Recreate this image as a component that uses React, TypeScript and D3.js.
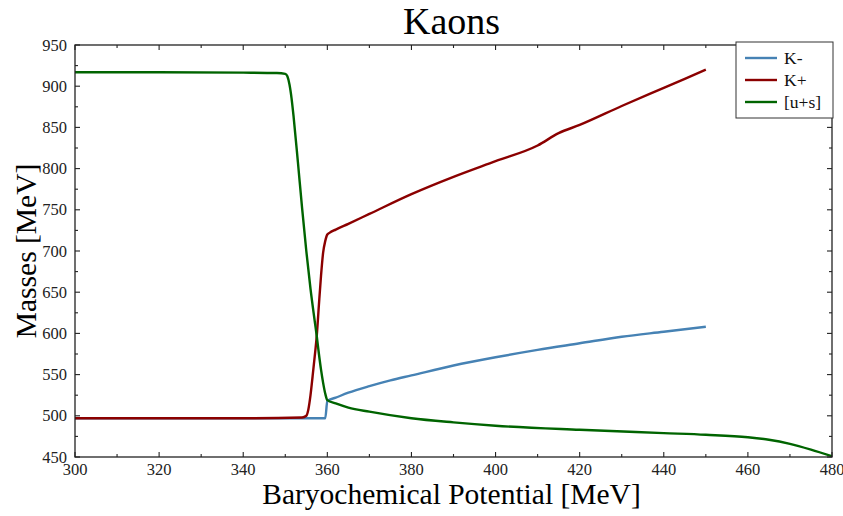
import React, { useEffect, useRef } from 'react';
import * as d3 from 'd3';

// chemical potential values (MeV) and masses (MeV)
const kMinusMu: number[] = [300, 320, 340, 359.5, 360, 362, 365, 370, 375, 380, 390, 400, 410, 420, 430, 440, 450];
const kMinusMass: number[] = [497, 497, 497, 497, 518, 522, 528, 536, 543, 549, 561, 571, 580, 588, 596, 602, 608];

const kPlusMu: number[] = [300, 320, 340, 354, 355, 355.5, 356, 356.5, 357, 357.5, 358, 358.5, 359, 359.5, 360, 360.5, 362, 365, 370, 380, 390, 400, 410, 415, 420, 430, 440, 450];
const kPlusMass: number[] = [497, 497, 497, 498, 500, 508, 525, 548, 572, 598, 635, 670, 698, 712, 720, 722, 726, 733, 745, 769, 790, 809, 828, 843, 853, 876, 898, 920];

const usMu: number[] = [300, 320, 340, 348, 350, 350.5, 351, 351.5, 352, 353, 354, 355, 356, 357, 357.5, 358, 358.5, 359, 359.5, 360, 362, 365, 370, 380, 390, 400, 420, 440, 450, 460, 465, 470, 475, 480];
const usMass: number[] = [917, 917, 916.5, 916, 915, 912, 902, 885, 862, 808, 752, 700, 654, 615, 596, 575, 556, 540, 527, 519, 515, 510, 505, 497, 492, 488, 483, 479, 477, 474, 471, 466, 459, 451];

const seriesNames: string[] = ['K-', 'K+', '[u+s]'];
const seriesColors: string[] = ['#4682b4', '#8b0000', '#006400'];

const xTicks: number[] = [300, 320, 340, 360, 380, 400, 420, 440, 460, 480];
const yTicks: number[] = [450, 500, 550, 600, 650, 700, 750, 800, 850, 900, 950];

const W = 843;
const H = 516;
const margin = { left: 75, right: 11, top: 45, bottom: 59 };

export default function App() {
  const ref = useRef<SVGSVGElement>(null);

  useEffect(() => {
    const svg = d3.select(ref.current);
    svg.selectAll('*').remove();

    const x = d3.scaleLinear().domain([300, 480]).range([margin.left, W - margin.right]);
    const y = d3.scaleLinear().domain([450, 950]).range([H - margin.bottom, margin.top]);
    const font = '"Liberation Serif", "DejaVu Serif", serif';

    svg.append('rect').attr('width', W).attr('height', H).attr('fill', 'white');

    const sets = [
      { mu: kMinusMu, m: kMinusMass },
      { mu: kPlusMu, m: kPlusMass },
      { mu: usMu, m: usMass },
    ];

    svg.append('defs').append('clipPath').attr('id', 'clip')
      .append('rect')
      .attr('x', margin.left).attr('y', margin.top)
      .attr('width', W - margin.left - margin.right)
      .attr('height', H - margin.top - margin.bottom);

    const g = svg.append('g').attr('clip-path', 'url(#clip)');
    sets.forEach((s, i) => {
      const path = d3.line<number>()
        .x((d, j) => x(s.mu[j]))
        .y((d) => y(d))
        .curve(d3.curveMonotoneX);
      g.append('path')
        .attr('d', path(s.m) as string)
        .attr('fill', 'none')
        .attr('stroke', seriesColors[i])
        .attr('stroke-width', 2.4)
        .attr('stroke-linejoin', 'round');
    });

    // frame
    svg.append('rect')
      .attr('x', margin.left).attr('y', margin.top)
      .attr('width', W - margin.left - margin.right)
      .attr('height', H - margin.top - margin.bottom)
      .attr('fill', 'none').attr('stroke', '#222').attr('stroke-width', 1.3);

    const x0 = margin.left, x1 = W - margin.right, y0 = H - margin.bottom, y1 = margin.top;
    const tk = svg.append('g').attr('stroke', '#222').attr('stroke-width', 1.1);

    // ticks on all four sides, major + one minor between
    d3.range(300, 481, 10).forEach((v) => {
      const len = v % 20 === 0 ? 5 : 3;
      tk.append('line').attr('x1', x(v)).attr('x2', x(v)).attr('y1', y0).attr('y2', y0 - len);
      tk.append('line').attr('x1', x(v)).attr('x2', x(v)).attr('y1', y1).attr('y2', y1 + len);
    });
    d3.range(450, 951, 25).forEach((v) => {
      const len = v % 50 === 0 ? 5 : 3;
      tk.append('line').attr('y1', y(v)).attr('y2', y(v)).attr('x1', x0).attr('x2', x0 + len);
      tk.append('line').attr('y1', y(v)).attr('y2', y(v)).attr('x1', x1).attr('x2', x1 - len);
    });

    svg.append('g').selectAll('text').data(xTicks).join('text')
      .attr('x', (d) => x(d)).attr('y', y0 + 18)
      .attr('text-anchor', 'middle')
      .attr('font-family', font).attr('font-size', 16.5).attr('fill', '#222')
      .text((d) => d);

    svg.append('g').selectAll('text').data(yTicks).join('text')
      .attr('x', x0 - 8).attr('y', (d) => y(d) + 5.5)
      .attr('text-anchor', 'end')
      .attr('font-family', font).attr('font-size', 16.5).attr('fill', '#222')
      .text((d) => d);

    // titles
    svg.append('text').attr('x', (x0 + x1) / 2 - 2).attr('y', 34)
      .attr('text-anchor', 'middle').attr('font-family', font).attr('font-size', 38)
      .text('Kaons');
    svg.append('text').attr('x', (x0 + x1) / 2 - 2).attr('y', 504)
      .attr('text-anchor', 'middle').attr('font-family', font).attr('font-size', 29.5)
      .text('Baryochemical Potential [MeV]');
    svg.append('text')
      .attr('transform', `translate(36,${(y0 + y1) / 2}) rotate(-90)`)
      .attr('text-anchor', 'middle').attr('font-family', font).attr('font-size', 29.5)
      .text('Masses [MeV]');

    // legend
    const lg = svg.append('g').attr('transform', 'translate(736,42)');
    lg.append('rect').attr('width', 97).attr('height', 76)
      .attr('fill', 'white').attr('stroke', '#333').attr('stroke-width', 1);
    seriesNames.forEach((n, i) => {
      const yy = 16 + i * 22;
      lg.append('line').attr('x1', 9).attr('x2', 41).attr('y1', yy).attr('y2', yy)
        .attr('stroke', seriesColors[i]).attr('stroke-width', 2.4);
      lg.append('text').attr('x', 48).attr('y', yy + 5.5)
        .attr('font-family', font).attr('font-size', 17.5).attr('fill', '#111')
        .text(n);
    });
  }, []);

  return (
    <svg ref={ref} width={W} height={H}
      style={{ position: 'absolute', left: 0, top: 0, display: 'block' }} />
  );
}
